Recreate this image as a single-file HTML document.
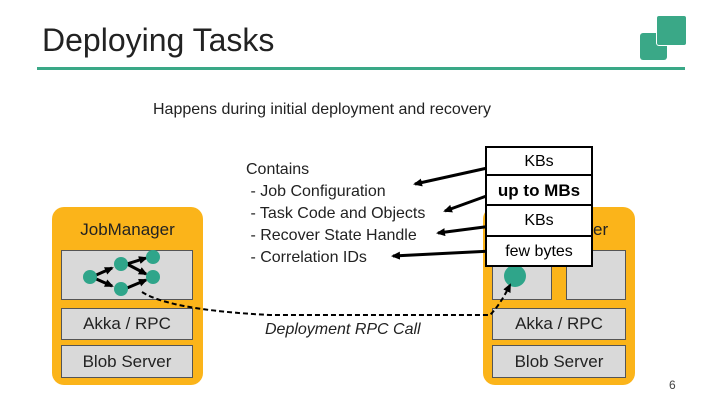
<!DOCTYPE html>
<html><head><style>
body{margin:0;width:720px;height:405px;background:#fff;position:relative;overflow:hidden;font-family:"Liberation Sans",sans-serif;}
.a{position:absolute;}
.box{position:absolute;background:#d9d9d9;border:1px solid #555;box-sizing:border-box;text-align:center;font-size:17px;color:#222;}
.org{position:absolute;background:#fbb41a;border-radius:12px;}
.cell{position:absolute;left:485px;width:108px;background:#fff;border:2px solid #000;box-sizing:border-box;text-align:center;font-size:16px;}
</style></head><body>
<div class="a" style="left:42px;top:22px;font-size:32px;color:#222;">Deploying Tasks</div>
<div class="a" style="left:37px;top:67px;width:648px;height:3px;background:#3aa887;"></div>
<div class="a" style="left:640px;top:33px;width:27px;height:27px;background:#3aa887;border-radius:3px;"></div>
<div class="a" style="left:656px;top:15px;width:29px;height:29px;background:#3aa887;border-radius:3px;border:1.5px solid #fff;"></div>
<div class="a" style="left:153px;top:101px;font-size:16px;color:#222;">Happens during initial deployment and recovery</div>

<div class="org" style="left:52px;top:207px;width:151px;height:178px;"></div>
<div class="a" style="left:52px;top:220px;width:151px;text-align:center;font-size:17px;color:#222;">JobManager</div>
<div class="box" style="left:61px;top:250px;width:132px;height:50px;"></div>
<div class="box" style="left:61px;top:308px;width:132px;height:32px;line-height:30px;">Akka / RPC</div>
<div class="box" style="left:61px;top:345px;width:132px;height:33px;line-height:31px;">Blob Server</div>

<div class="org" style="left:483px;top:207px;width:152px;height:178px;"></div>
<div class="a" style="left:593px;top:220px;font-size:17px;color:#222;">er</div>
<div class="box" style="left:492px;top:250px;width:60px;height:50px;"></div>
<div class="box" style="left:566px;top:250px;width:60px;height:50px;"></div>
<div class="box" style="left:492px;top:308px;width:134px;height:32px;line-height:30px;">Akka / RPC</div>
<div class="box" style="left:492px;top:345px;width:134px;height:33px;line-height:31px;">Blob Server</div>

<div class="a" style="left:246px;top:159px;font-size:16px;color:#222;line-height:22px;">Contains<br>&nbsp;- Job Configuration<br>&nbsp;- Task Code and Objects<br>&nbsp;- Recover State Handle<br>&nbsp;- Correlation IDs</div>
<div class="a" style="left:265px;top:321px;font-size:16px;font-style:italic;color:#222;">Deployment RPC Call</div>
<div class="a" style="left:669px;top:378px;font-size:12px;color:#444;">6</div>

<svg class="a" style="left:0;top:0" width="720" height="405">
<defs><marker id="m" markerUnits="userSpaceOnUse" markerWidth="9" markerHeight="8" refX="7" refY="4" orient="auto"><path d="M0,0 L9,4 L0,8z" fill="#000"/></marker></defs>
<g stroke="#000" stroke-width="3" marker-end="url(#m)">
<line x1="94" y1="276" x2="112" y2="268"/><line x1="94" y1="278" x2="112" y2="286"/>
<line x1="127" y1="264" x2="146" y2="258"/><line x1="127" y1="264" x2="146" y2="274"/>
<line x1="127" y1="288" x2="146" y2="280"/>
</g>
<g fill="#2fa58a"><circle cx="90" cy="277" r="7"/><circle cx="121" cy="264" r="7"/><circle cx="121" cy="289" r="7"/><circle cx="153" cy="257" r="7"/><circle cx="153" cy="277" r="7"/><circle cx="515" cy="276" r="11"/></g>
<path d="M142,292 Q170,310 270,315 L490,315 Q500,305 510,285" fill="none" stroke="#000" stroke-width="2" stroke-dasharray="5,3" marker-end="url(#m)"/>
<g stroke="#000" stroke-width="3" marker-end="url(#m)">
<line x1="492" y1="167" x2="415" y2="184"/>
<line x1="492" y1="194" x2="445" y2="211"/>
<line x1="492" y1="226" x2="438" y2="233"/>
<line x1="492" y1="251" x2="393" y2="256"/>
</g>
</svg>
<div class="cell" style="top:146px;height:30px;line-height:27px;">KBs</div>
<div class="cell" style="top:174px;height:32px;line-height:29px;font-weight:bold;font-size:17px;">up to MBs</div>
<div class="cell" style="top:204px;height:33px;line-height:30px;">KBs</div>
<div class="cell" style="top:235px;height:32px;line-height:29px;">few bytes</div>
</body></html>
